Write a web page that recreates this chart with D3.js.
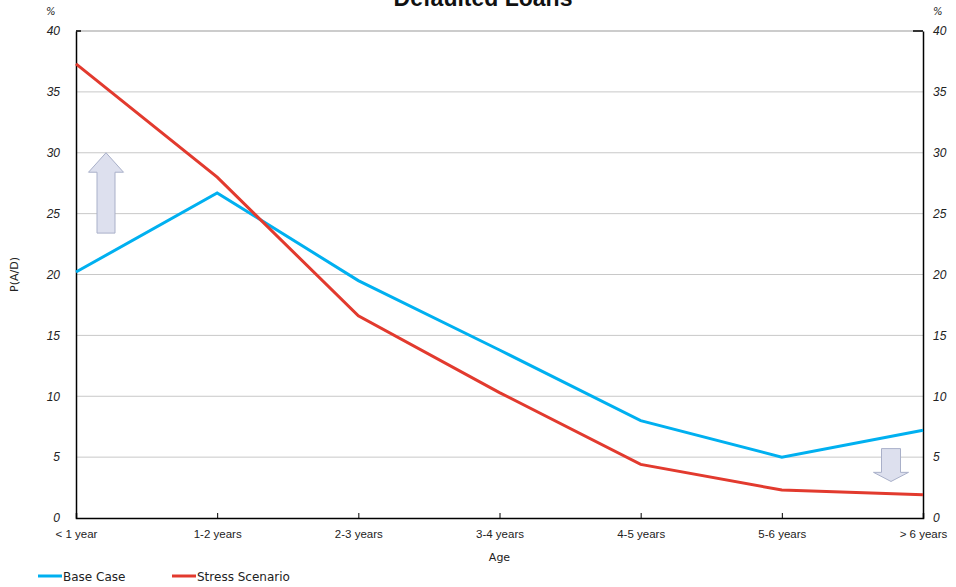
<!DOCTYPE html>
<html>
<head>
<meta charset="utf-8">
<script src="https://cdn.jsdelivr.net/npm/d3@7"></script>
<style>
  html, body { margin: 0; padding: 0; background: #fff; }
  svg { display: block; font-family: "DejaVu Sans", Verdana, sans-serif; }
</style>
</head>
<body>
<svg id="chart" width="956" height="587"></svg>
<script>
// Age buckets of defaulted loans
const categories = ["< 1 year", "1-2 years", "2-3 years", "3-4 years", "4-5 years", "5-6 years", "> 6 years"];
// P(A/D), percent
const baseCase = [20.2, 26.7, 19.5, 13.8, 8.0, 5.0, 7.2];
const stressScenario = [37.3, 28.0, 16.6, 10.3, 4.4, 2.3, 1.9];
const yTicks = [0, 5, 10, 15, 20, 25, 30, 35, 40];
const seriesNames = ["Base Case", "Stress Scenario"];
const seriesColors = ["#00b0f0", "#e23a2e"];

const svg = d3.select("#chart");
const margin = { left: 76, right: 33, top: 31, bottom: 69 };
const W = 956, H = 587;

const x = d3.scalePoint().domain(categories).range([margin.left, W - margin.right]);
const y = d3.scaleLinear().domain([0, 40]).range([H - margin.bottom, margin.top]);

// gridlines
svg.append("g").selectAll("line").data(yTicks.filter(t => t > 0)).join("line")
  .attr("x1", x.range()[0]).attr("x2", x.range()[1])
  .attr("y1", d => y(d)).attr("y2", d => y(d))
  .attr("stroke", d => d === 40 ? "#999" : "#c8c8c8").attr("stroke-width", 1);

// left axis
const left = svg.append("g").attr("transform", `translate(${x.range()[0]},0)`)
  .call(d3.axisLeft(y).tickValues(yTicks).tickSize(0).tickPadding(16).tickFormat(d3.format("d")));
left.select(".domain").attr("stroke", "#000").attr("stroke-width", 1.5);
left.selectAll("text").attr("font-size", 12).attr("font-style", "italic").attr("fill", "#222");

// right axis
const right = svg.append("g").attr("transform", `translate(${x.range()[1]},0)`)
  .call(d3.axisRight(y).tickValues(yTicks).tickSize(0).tickPadding(10).tickFormat(d3.format("d")));
right.select(".domain").attr("stroke", "#000").attr("stroke-width", 1.5);
right.selectAll("text").attr("font-size", 12).attr("font-style", "italic").attr("fill", "#222");

// small inward ticks at the top of both value axes
svg.append("line").attr("x1", x.range()[0]).attr("x2", x.range()[0] + 5)
  .attr("y1", y(40)).attr("y2", y(40)).attr("stroke", "#000").attr("stroke-width", 1.5);
svg.append("line").attr("x1", x.range()[1] - 10).attr("x2", x.range()[1])
  .attr("y1", y(40)).attr("y2", y(40)).attr("stroke", "#000").attr("stroke-width", 1.5);

// unit markers
svg.append("text").attr("x", 46).attr("y", 15).attr("font-size", 10).attr("font-style", "italic").attr("fill", "#222").text("%");
svg.append("text").attr("x", 933).attr("y", 15).attr("font-size", 10).attr("font-style", "italic").attr("fill", "#222").text("%");

// category axis
const bottom = svg.append("g").attr("transform", `translate(0,${y(0)})`)
  .call(d3.axisBottom(x).tickSize(-5).tickPadding(12));
bottom.select(".domain").attr("stroke", "#000").attr("stroke-width", 1.5);
bottom.selectAll(".tick line").attr("stroke", "#000").attr("stroke-width", 1);
bottom.selectAll("text").attr("font-size", 11.5).attr("fill", "#222");

// axis titles
svg.append("text").attr("x", (x.range()[0] + x.range()[1]) / 2).attr("y", 561)
  .attr("text-anchor", "middle").attr("font-size", 11).attr("fill", "#222").text("Age");
svg.append("text").attr("transform", `translate(18,${(y(0) + y(40)) / 2}) rotate(-90)`)
  .attr("text-anchor", "middle").attr("font-size", 11).attr("fill", "#222").text("P(A/D)");

// chart title
svg.append("text").attr("x", 483).attr("y", 6).attr("text-anchor", "middle")
  .attr("font-family", "'Liberation Sans', Arial, sans-serif")
  .attr("font-size", 23).attr("font-weight", "bold").attr("fill", "#111").text("Defaulted Loans");

// direction arrows
function arrow(cx, yTip, yHeadBase, yEnd, halfHead, halfShaft) {
  return `M${cx},${yTip} L${cx + halfHead},${yHeadBase} L${cx + halfShaft},${yHeadBase} L${cx + halfShaft},${yEnd} L${cx - halfShaft},${yEnd} L${cx - halfShaft},${yHeadBase} L${cx - halfHead},${yHeadBase} Z`;
}
const upX = x(categories[0]) + 30;
svg.append("path").attr("d", arrow(upX, y(30), y(28.4), y(23.4), 17.5, 9))
  .attr("fill", "#dde0ee").attr("stroke", "#a9b0c9").attr("stroke-width", 1);
const downX = x(categories[6]) - 32;
svg.append("path").attr("d", arrow(downX, y(3.0), y(3.75), y(5.7), 17.5, 9.5))
  .attr("fill", "#dde0ee").attr("stroke", "#a9b0c9").attr("stroke-width", 1);

// series lines
const line = d3.line().x((d, i) => x(categories[i])).y(d => y(d));
[baseCase, stressScenario].forEach((vals, k) => {
  svg.append("path").datum(vals).attr("d", line)
    .attr("fill", "none").attr("stroke", seriesColors[k]).attr("stroke-width", 3)
    .attr("stroke-linejoin", "miter");
});

// legend
const legendX = [38, 172];
seriesNames.forEach((name, k) => {
  const g = svg.append("g").attr("transform", `translate(${legendX[k]},576)`);
  g.append("line").attr("x1", 0).attr("x2", 24).attr("y1", 0).attr("y2", 0)
    .attr("stroke", seriesColors[k]).attr("stroke-width", 3);
  g.append("text").attr("x", 25).attr("y", 4.5).attr("font-size", 12).attr("fill", "#222").text(name);
});
</script>
</body>
</html>
